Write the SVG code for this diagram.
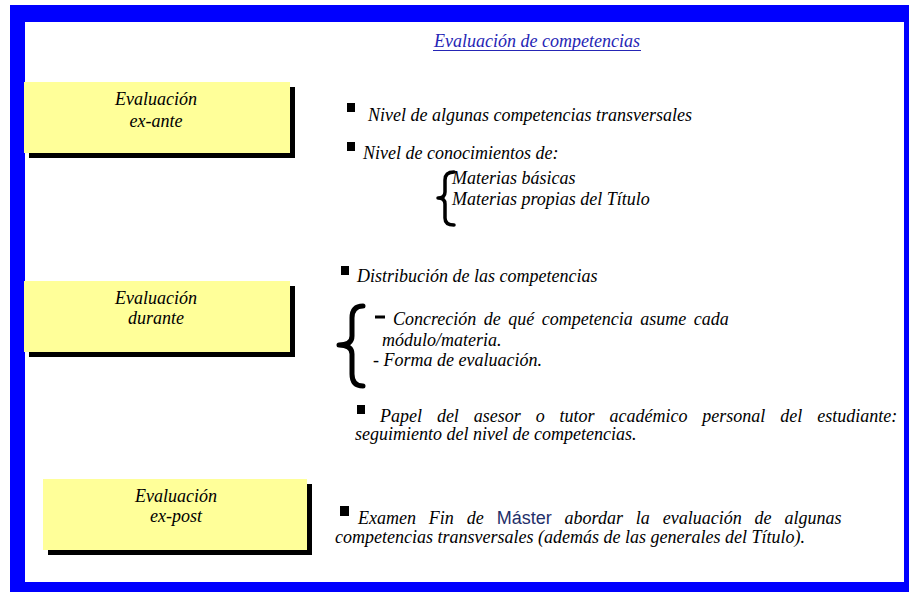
<svg xmlns="http://www.w3.org/2000/svg" width="909" height="592" viewBox="0 0 909 592">
<style>
.t{font-family:"Liberation Serif","Times New Roman",serif;font-style:italic;font-size:18px;fill:#000}
.c{text-anchor:middle}
.box{fill:#ffff99}
.sh{fill:#000}
.bul{fill:#000}
.brace{fill:none;stroke:#000;stroke-linecap:round;stroke-linejoin:round}
.sans{font-family:"Liberation Sans",Arial,sans-serif;font-style:normal;fill:#1f2f6a}
</style>
<rect x="0" y="0" width="909" height="592" fill="#fff"/>
<rect x="10" y="5" width="899" height="587" fill="#0000ff"/>
<rect x="25" y="22" width="879" height="560" fill="#fff"/>

<g id="title">
<text class="t c" x="537" y="47" style="fill:#2525b5">Evaluación de competencias</text>
<line x1="433" y1="50.5" x2="641" y2="50.5" stroke="#2525b5" stroke-width="1"/>
</g>

<g id="box-exante">
<rect class="sh" x="29" y="87" width="266" height="71"/>
<rect class="box" x="24" y="82" width="266" height="71"/>
<text class="t c" x="156" y="105">Evaluación</text>
<text class="t c" x="156" y="127">ex-ante</text>
</g>

<g id="box-durante">
<rect class="sh" x="29" y="286" width="266" height="71"/>
<rect class="box" x="24" y="281" width="266" height="71"/>
<text class="t c" x="156" y="304">Evaluación</text>
<text class="t c" x="156" y="324">durante</text>
</g>

<g id="box-expost">
<rect class="sh" x="48" y="484" width="264" height="71"/>
<rect class="box" x="43" y="479" width="264" height="71"/>
<text class="t c" x="176" y="502">Evaluación</text>
<text class="t c" x="176" y="522">ex-post</text>
</g>

<g id="text-exante">
<rect class="bul" x="347" y="103" width="8" height="9"/>
<text class="t" x="368" y="121">Nivel de algunas competencias transversales</text>
<rect class="bul" x="347" y="142" width="8" height="9"/>
<text class="t" x="363" y="159">Nivel de conocimientos de:</text>
<path class="brace" stroke-width="3.5" d="M454,172 Q445,172 445,180 L445,192 Q445,198 438,198 Q445,198 445,204 L445,218 Q445,225 454,225"/>
<text class="t" x="452" y="184">Materias básicas</text>
<text class="t" x="452" y="205">Materias propias del Título</text>
</g>

<g id="text-durante">
<rect class="bul" x="341" y="266" width="8" height="9"/>
<text class="t" x="357" y="282">Distribución de las competencias</text>
<path class="brace" stroke-width="5" d="M363,306 Q352,306 352,318 L352,336 Q352,345 339,345 Q352,345 352,354 L352,374 Q352,386 363,386"/>
<rect class="bul" x="375" y="315.5" width="10" height="3"/>
<text class="t" x="393" y="325" word-spacing="3">Concreción de qué competencia asume cada</text>
<text class="t" x="382" y="346">módulo/materia.</text>
<text class="t" x="373" y="366">- Forma de evaluación.</text>
<rect class="bul" x="357" y="405" width="8" height="9"/>
<text class="t" x="380" y="422" word-spacing="10.4">Papel del asesor o tutor académico personal del estudiante:</text>
<text class="t" x="355" y="440">seguimiento del nivel de competencias.</text>
</g>

<g id="text-expost">
<rect class="bul" x="340" y="506" width="9" height="10"/>
<text class="t" x="358" y="524" word-spacing="8.4">Examen Fin de <tspan class="sans">Máster</tspan> abordar la evaluación de algunas</text>
<text class="t" x="335" y="543">competencias transversales (además de las generales del Título).</text>
</g>
</svg>
